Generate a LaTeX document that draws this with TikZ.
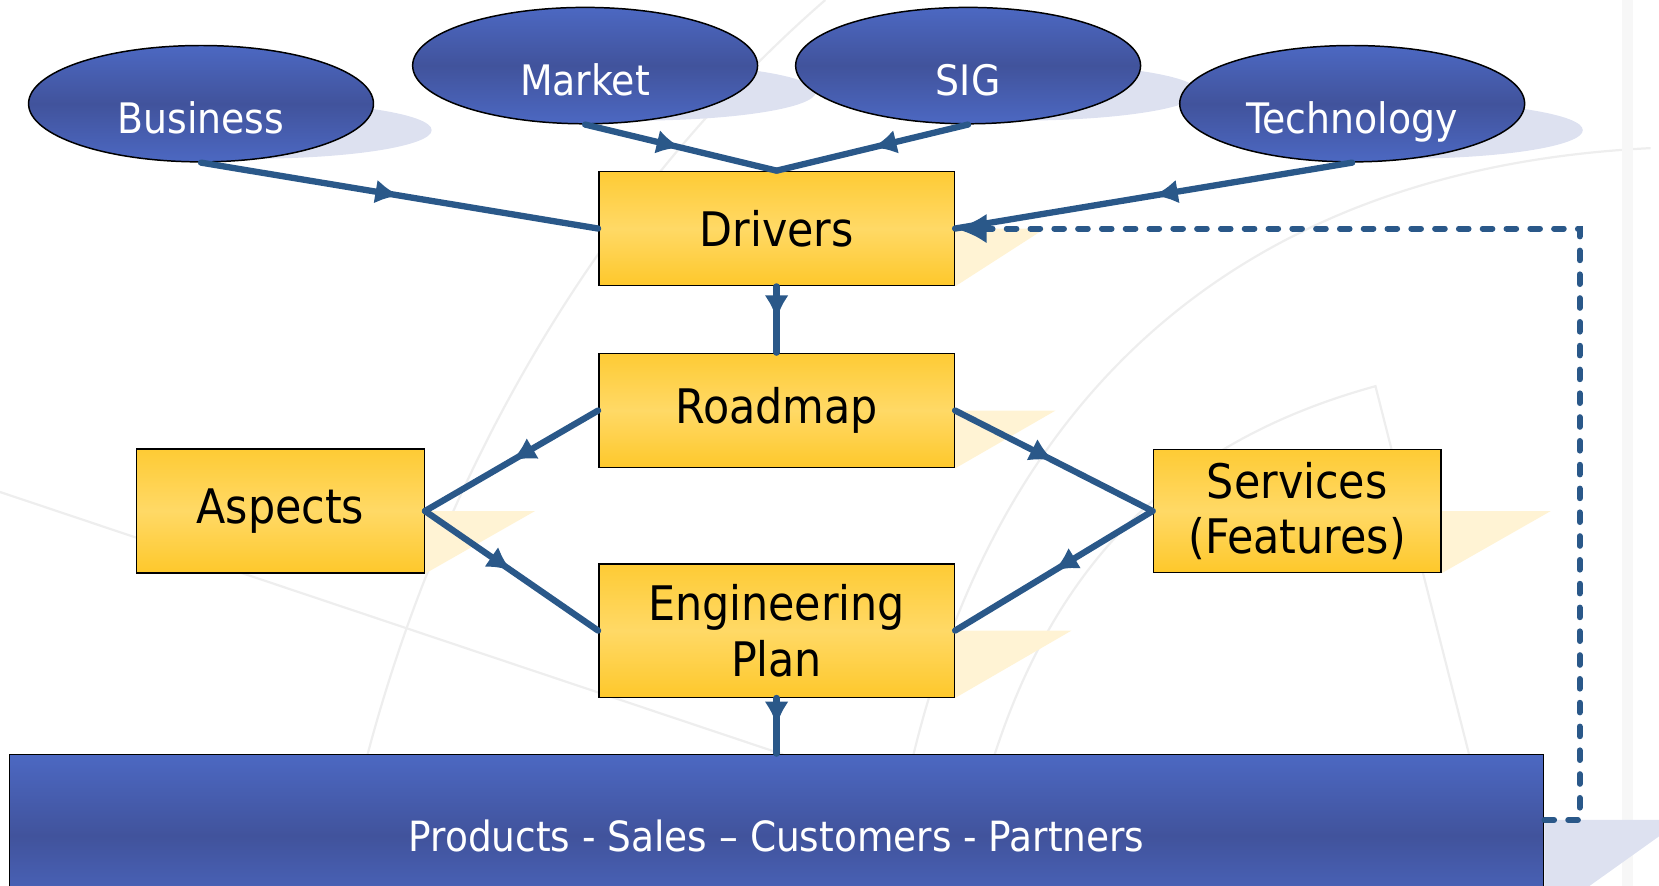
\documentclass[tikz,border=0pt]{standalone}
\usepackage{fontspec}
\setmainfont{DejaVu Sans Condensed}
\usetikzlibrary{shapes.geometric,arrows.meta,decorations.markings,backgrounds}

\definecolor{linkblue}{HTML}{2A5889}
\definecolor{bubbletop}{HTML}{4C68C2}
\definecolor{bubblemid}{HTML}{41539C}
\definecolor{boxtop}{HTML}{FECB35}
\definecolor{boxmid}{HTML}{FFD966}
\definecolor{boxbot}{HTML}{FEC82B}
\definecolor{shadowblue}{HTML}{DDE1F0}
\definecolor{shadowyellow}{HTML}{FFF3D4}
\definecolor{faintgray}{HTML}{EEEEEE}

\tikzset{
    bubble/.style={ellipse, draw=black, line width=0.4pt, top color=bubbletop, bottom color=bubbletop, middle color=bubblemid,
        minimum width=3.26cm, minimum height=1.10cm, inner sep=0pt, text=white,
        font=\fontsize{11.3}{13}\selectfont, text height=0.56cm, text depth=0pt},
    stage/.style={rectangle, draw=black, line width=0.4pt, top color=boxtop, bottom color=boxbot, middle color=boxmid,
        minimum width=3.36cm, minimum height=1.08cm, inner sep=0pt, align=center, font=\fontsize{12.8}{15}\selectfont},
    link/.style={draw, color=linkblue, line width=1.7pt, line cap=round, postaction={decorate},
        decoration={markings, mark=at position 0.5 with {\arrow{Latex[length=6.5pt,width=6.5pt]}}}},
    feedback/.style={draw, color=linkblue, line width=1.6pt, line cap=round, dash pattern=on 2.6pt off 3.8pt,
        -{Latex[length=8.5pt,width=8pt]}},
}

\begin{document}
\begin{tikzpicture}
        \useasboundingbox (0,0) rectangle (15.68,-8.37);

        \node[bubble] (business) at (1.90,-0.98) {Business};
        \node[bubble] (market) at (5.53,-0.62) {Market};
        \node[bubble] (sig) at (9.15,-0.62) {SIG};
        \node[bubble] (technology) at (12.78,-0.98) {Technology};

        \node[stage] (drivers) at (7.34,-2.16) {Drivers};
        \node[stage] (roadmap) at (7.34,-3.88) {Roadmap};
        \node[stage, minimum width=2.72cm, minimum height=1.17cm] (aspects) at (2.65,-4.83) {Aspects};
        \node[stage, minimum width=2.72cm, minimum height=1.16cm] (services) at (12.26,-4.83) {Services\\(Features)};
        \node[stage, minimum height=1.26cm] (engplan) at (7.34,-5.96) {Engineering\\Plan};
        \node[rectangle, draw=black, line width=0.4pt, top color=bubbletop, bottom color=bubbletop, middle color=bubblemid,
            minimum width=14.50cm, minimum height=1.54cm, text=white, font=\fontsize{11.2}{13}\selectfont]
            (products) at (7.34,-7.90) {Products - Sales -- Customers - Partners};

        \begin{scope}[on background layer]
            \draw[faintgray, line width=0.6pt] (0,-4.65) -- (7.4,-7.13);
            \draw[faintgray, line width=0.6pt] (3.2,-8.37) .. controls (3.8,-5.0) and (5.5,-2.0) .. (7.8,0);
            \draw[faintgray, line width=0.6pt] (8.4,-8.37) .. controls (9.0,-4.0) and (11.5,-1.6) .. (15.6,-1.4);
            \draw[faintgray, line width=0.6pt] (9.1,-8.37) .. controls (9.6,-5.5) and (11.0,-4.2) .. (13.0,-3.65) -- (14.2,-8.37);
            \draw[faintgray!50, line width=3pt] (15.38,0) -- (15.38,-8.37);
            \foreach \n in {business,market,sig,technology} {
                \fill[shadowblue] ([shift={(0.48,-0.25)}]\n.center) ellipse [x radius=1.70, y radius=0.27];
            }
            \foreach \n/\d in {drivers/0.85,roadmap/0.95,aspects/1.04,services/1.03,engplan/1.10} {
                \fill[shadowyellow] (\n.east) -- ++(\d,0) -- (\n.south east) -- cycle;
            }
            \fill[shadowblue] ([yshift=0.15cm]products.east) -- ++(1.3,0) -- (products.south east) -- cycle;
        \end{scope}

        \draw[link] (business.south) -- (drivers.west);
        \draw[link] (market.south) -- (drivers.north);
        \draw[link] (sig.south) -- (drivers.north);
        \draw[link] (technology.south) -- (drivers.east);
        \draw[link] (drivers.south) -- (roadmap.north);
        \draw[link] (roadmap.west) -- (aspects.east);
        \draw[link] (aspects.east) -- (engplan.west);
        \draw[link] (roadmap.east) -- (services.west);
        \draw[link] (services.west) -- (engplan.east);
        \draw[link] (engplan.south) -- (products.north);

        \coordinate (fbstart) at ([yshift=0.15cm]products.east);
        \coordinate (fbturn) at (14.93,-2.16);
        \draw[feedback] (fbstart) -| (fbturn) -- (drivers.east);
    \end{tikzpicture}
\end{document}
